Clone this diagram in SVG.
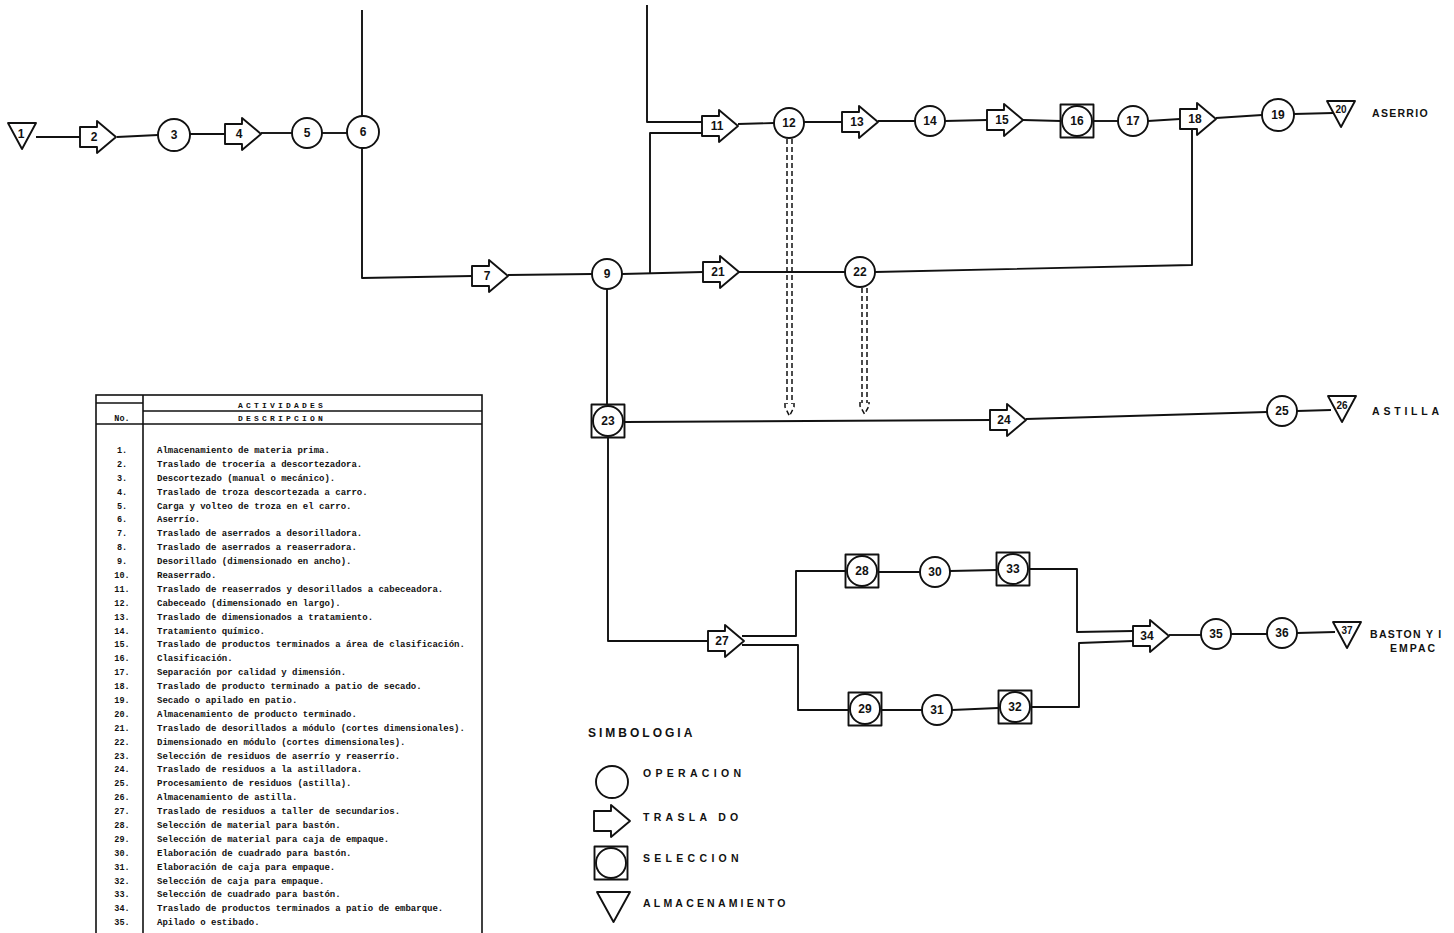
<svg xmlns="http://www.w3.org/2000/svg" xmlns:xlink="http://www.w3.org/1999/xlink" width="1454" height="933" viewBox="0 0 1454 933">
<style>
.ln{fill:none;stroke:#111;stroke-width:1.9;stroke-linejoin:round}
.sh{fill:#fff;stroke:#111;stroke-width:1.9;stroke-linejoin:round}
.dash{fill:none;stroke:#111;stroke-width:1.5;stroke-dasharray:5 3}
.num{font-family:"Liberation Sans",Arial,sans-serif;font-weight:bold;font-size:12px;fill:#111;text-anchor:middle}
.snum{font-family:"Liberation Sans",Arial,sans-serif;font-weight:bold;font-size:10px;fill:#111;text-anchor:middle}
.lbl{font-family:"Liberation Sans",Arial,sans-serif;font-weight:bold;font-size:10.5px;fill:#111}
.leg{font-family:"Liberation Sans",Arial,sans-serif;font-weight:bold;font-size:10.5px;fill:#111;letter-spacing:4.3px}
.tb{fill:none;stroke:#111;stroke-width:1.6}
.th{font-family:"Liberation Mono",monospace;font-weight:bold;font-size:8px;fill:#111;letter-spacing:3.2px;text-anchor:middle}
.tn{font-family:"Liberation Mono",monospace;font-weight:bold;font-size:8.5px;fill:#111;text-anchor:middle}
.td{font-family:"Liberation Mono",monospace;font-weight:bold;font-size:9px;fill:#111}
</style>
<defs>
<path id="tras" class="sh" d="M0,-10 H17 V-16 L36,0 L17,16 V10 H0 Z"/>
<g id="sel"><rect class="sh" x="-16.5" y="-16.5" width="33" height="33"/><circle class="sh" cx="0" cy="0" r="15"/></g>
<path id="alm" class="sh" d="M-14,-13 H14 L0,13 Z"/>
</defs>
<rect width="1454" height="933" fill="#fff"/>

<g id="connectors">
<path class="ln" d="M36,137 L80,137"/>
<path class="ln" d="M117,137 L158,135"/>
<path class="ln" d="M190,134 L225,134"/>
<path class="ln" d="M261,133 L292,133"/>
<path class="ln" d="M322,133 L347,133"/>
<path class="ln" d="M362,10 L362,116"/>
<path class="ln" d="M362,148 L362,278 L472,276"/>
<path class="ln" d="M508,275 L592,274"/>
<path class="ln" d="M622,274 L703,272"/>
<path class="ln" d="M650,274 L650,133 L702,133"/>
<path class="ln" d="M647,5 L647,122 L702,122"/>
<path class="ln" d="M738,124 L774,123"/>
<path class="ln" d="M804,122 L842,122"/>
<path class="ln" d="M878,121 L915,121"/>
<path class="ln" d="M945,121 L987,120"/>
<path class="ln" d="M1023,120 L1061,121"/>
<path class="ln" d="M1093,121 L1118,121"/>
<path class="ln" d="M1148,121 L1180,119"/>
<path class="ln" d="M1216,118 L1262,115"/>
<path class="ln" d="M1294,114 L1333,113"/>
<path class="ln" d="M739,272 L845,272"/>
<path class="ln" d="M875,272 L1192,265 L1192,129"/>
<path class="ln" d="M607,289 L607,405"/>
<path class="ln" d="M625,422 L990,420"/>
<path class="ln" d="M1026,419 L1267,412"/>
<path class="ln" d="M1297,411 L1331,410"/>
<path class="ln" d="M608,438 L608,641 L708,641"/>
<path class="ln" d="M742,636 L796,636 L796,571 L845,571"/>
<path class="ln" d="M742,645 L798,645 L798,710 L848,710"/>
<path class="ln" d="M879,572 L920,572"/>
<path class="ln" d="M950,571 L997,570"/>
<path class="ln" d="M1030,569 L1077,569 L1077,632 L1133,631"/>
<path class="ln" d="M882,710 L922,710"/>
<path class="ln" d="M952,710 L998,708"/>
<path class="ln" d="M1032,707 L1079,707 L1079,643 L1133,641"/>
<path class="ln" d="M1169,635 L1201,635"/>
<path class="ln" d="M1231,634 L1267,634"/>
<path class="ln" d="M1297,633 L1335,632"/>
<path class="dash" d="M787,139 L787,404"/>
<path class="dash" d="M792,139 L792,404"/>
<path class="dash" d="M785,403 L785,407 L789.5,416 L794,407 L794,403"/>
<path class="dash" d="M862,288 L862,403"/>
<path class="dash" d="M867,288 L867,403"/>
<path class="dash" d="M860,402 L860,406 L864.5,414 L869,406 L869,402"/>
</g>

<g id="n1"><use href="#alm" x="22" y="136"/><text class="num" x="21" y="138">1</text></g>
<g id="n2"><use href="#tras" x="80" y="137"/><text class="num" x="94" y="141">2</text></g>
<g id="n3"><circle class="sh" cx="174" cy="135" r="16"/><text class="num" x="174" y="139">3</text></g>
<g id="n4"><use href="#tras" x="225" y="134"/><text class="num" x="239" y="138">4</text></g>
<g id="n5"><circle class="sh" cx="307" cy="133" r="15"/><text class="num" x="307" y="137">5</text></g>
<g id="n6"><circle class="sh" cx="363" cy="132" r="16"/><text class="num" x="363" y="136">6</text></g>
<g id="n7"><use href="#tras" x="472" y="276"/><text class="num" x="487" y="280">7</text></g>
<g id="n9"><circle class="sh" cx="607" cy="274" r="15"/><text class="num" x="607" y="278">9</text></g>
<g id="n11"><use href="#tras" x="702" y="126"/><text class="num" x="717" y="130">11</text></g>
<g id="n12"><circle class="sh" cx="789" cy="123" r="15"/><text class="num" x="789" y="127">12</text></g>
<g id="n13"><use href="#tras" x="842" y="122"/><text class="num" x="857" y="126">13</text></g>
<g id="n14"><circle class="sh" cx="930" cy="121" r="15"/><text class="num" x="930" y="125">14</text></g>
<g id="n15"><use href="#tras" x="987" y="120"/><text class="num" x="1002" y="124">15</text></g>
<g id="n16"><use href="#sel" x="1077" y="121"/><text class="num" x="1077" y="125">16</text></g>
<g id="n17"><circle class="sh" cx="1133" cy="121" r="15"/><text class="num" x="1133" y="125">17</text></g>
<g id="n18"><use href="#tras" x="1180" y="119"/><text class="num" x="1195" y="123">18</text></g>
<g id="n19"><circle class="sh" cx="1278" cy="115" r="16"/><text class="num" x="1278" y="119">19</text></g>
<g id="n20"><use href="#alm" x="1341" y="114"/><text class="snum" x="1341" y="113">20</text></g>
<g id="n21"><use href="#tras" x="703" y="272"/><text class="num" x="718" y="276">21</text></g>
<g id="n22"><circle class="sh" cx="860" cy="272" r="15"/><text class="num" x="860" y="276">22</text></g>
<g id="n23"><use href="#sel" x="608" y="421"/><text class="num" x="608" y="425">23</text></g>
<g id="n24"><use href="#tras" x="990" y="420"/><text class="num" x="1004" y="424">24</text></g>
<g id="n25"><circle class="sh" cx="1282" cy="411" r="15"/><text class="num" x="1282" y="415">25</text></g>
<g id="n26"><use href="#alm" x="1342" y="409"/><text class="snum" x="1342" y="409">26</text></g>
<g id="n27"><use href="#tras" x="708" y="641"/><text class="num" x="722" y="645">27</text></g>
<g id="n28"><use href="#sel" x="862" y="571"/><text class="num" x="862" y="575">28</text></g>
<g id="n30"><circle class="sh" cx="935" cy="572" r="15"/><text class="num" x="935" y="576">30</text></g>
<g id="n33"><use href="#sel" x="1013" y="569"/><text class="num" x="1013" y="573">33</text></g>
<g id="n29"><use href="#sel" x="865" y="709"/><text class="num" x="865" y="713">29</text></g>
<g id="n31"><circle class="sh" cx="937" cy="710" r="15"/><text class="num" x="937" y="714">31</text></g>
<g id="n32"><use href="#sel" x="1015" y="707"/><text class="num" x="1015" y="711">32</text></g>
<g id="n34"><use href="#tras" x="1133" y="636"/><text class="num" x="1147" y="640">34</text></g>
<g id="n35"><circle class="sh" cx="1216" cy="634" r="15"/><text class="num" x="1216" y="638">35</text></g>
<g id="n36"><circle class="sh" cx="1282" cy="633" r="15"/><text class="num" x="1282" y="637">36</text></g>
<g id="n37"><use href="#alm" x="1347" y="635"/><text class="snum" x="1347" y="634">37</text></g>

<g id="labels">
<text class="lbl" x="1372" y="117" style="letter-spacing:1.3px">ASERRIO</text>
<text class="lbl" x="1372" y="415" style="letter-spacing:3.8px">ASTILLA</text>
<text class="lbl" x="1370" y="638" style="letter-spacing:1.3px">BASTON Y I</text>
<text class="lbl" x="1390" y="652" style="letter-spacing:2px">EMPAC</text>
</g>

<g id="legend">
<text class="leg" x="588" y="737" style="font-size:12px;letter-spacing:3px">SIMBOLOGIA</text>
<circle class="sh" cx="612" cy="782" r="16"/>
<text class="leg" x="643" y="777">OPERACION</text>
<use href="#tras" x="594" y="821"/>
<text class="leg" x="643" y="821">TRASLA DO</text>
<use href="#sel" x="611" y="863"/>
<text class="leg" x="643" y="862">SELECCION</text>
<path class="sh" d="M597,892 H630 L613.5,922 Z"/>
<text class="leg" x="643" y="907" style="letter-spacing:3.2px">ALMACENAMIENTO</text>
</g>

<g id="table">
<rect class="tb" x="96" y="395" width="386" height="550"/>
<line class="tb" x1="143" y1="395" x2="143" y2="945"/>
<line class="tb" x1="96" y1="403" x2="143" y2="403"/>
<line class="tb" x1="143" y1="411" x2="482" y2="411"/>
<line class="tb" x1="96" y1="424" x2="482" y2="424"/>
<text class="th" x="282" y="408">ACTIVIDADES</text>
<text class="th" x="282" y="421">DESCRIPCION</text>
<text class="tn" x="122" y="421">No.</text>
<text class="tn" x="122" y="453">1.</text><text class="td" x="157" y="453">Almacenamiento de materia prima.</text>
<text class="tn" x="122" y="467">2.</text><text class="td" x="157" y="467">Traslado de trocería a descortezadora.</text>
<text class="tn" x="122" y="481">3.</text><text class="td" x="157" y="481">Descortezado (manual o mecánico).</text>
<text class="tn" x="122" y="495">4.</text><text class="td" x="157" y="495">Traslado de troza descortezada a carro.</text>
<text class="tn" x="122" y="509">5.</text><text class="td" x="157" y="509">Carga y volteo de troza en el carro.</text>
<text class="tn" x="122" y="522">6.</text><text class="td" x="157" y="522">Aserrío.</text>
<text class="tn" x="122" y="536">7.</text><text class="td" x="157" y="536">Traslado de aserrados a desorilladora.</text>
<text class="tn" x="122" y="550">8.</text><text class="td" x="157" y="550">Traslado de aserrados a reaserradora.</text>
<text class="tn" x="122" y="564">9.</text><text class="td" x="157" y="564">Desorillado (dimensionado en ancho).</text>
<text class="tn" x="122" y="578">10.</text><text class="td" x="157" y="578">Reaserrado.</text>
<text class="tn" x="122" y="592">11.</text><text class="td" x="157" y="592">Traslado de reaserrados y desorillados a cabeceadora.</text>
<text class="tn" x="122" y="606">12.</text><text class="td" x="157" y="606">Cabeceado (dimensionado en largo).</text>
<text class="tn" x="122" y="620">13.</text><text class="td" x="157" y="620">Traslado de dimensionados a tratamiento.</text>
<text class="tn" x="122" y="634">14.</text><text class="td" x="157" y="634">Tratamiento químico.</text>
<text class="tn" x="122" y="647">15.</text><text class="td" x="157" y="647">Traslado de productos terminados a área de clasificación.</text>
<text class="tn" x="122" y="661">16.</text><text class="td" x="157" y="661">Clasificación.</text>
<text class="tn" x="122" y="675">17.</text><text class="td" x="157" y="675">Separación por calidad y dimensión.</text>
<text class="tn" x="122" y="689">18.</text><text class="td" x="157" y="689">Traslado de producto terminado a patio de secado.</text>
<text class="tn" x="122" y="703">19.</text><text class="td" x="157" y="703">Secado o apilado en patio.</text>
<text class="tn" x="122" y="717">20.</text><text class="td" x="157" y="717">Almacenamiento de producto terminado.</text>
<text class="tn" x="122" y="731">21.</text><text class="td" x="157" y="731">Traslado de desorillados a módulo (cortes dimensionales).</text>
<text class="tn" x="122" y="745">22.</text><text class="td" x="157" y="745">Dimensionado en módulo (cortes dimensionales).</text>
<text class="tn" x="122" y="759">23.</text><text class="td" x="157" y="759">Selección de residuos de aserrío y reaserrío.</text>
<text class="tn" x="122" y="772">24.</text><text class="td" x="157" y="772">Traslado de residuos a la astilladora.</text>
<text class="tn" x="122" y="786">25.</text><text class="td" x="157" y="786">Procesamiento de residuos (astilla).</text>
<text class="tn" x="122" y="800">26.</text><text class="td" x="157" y="800">Almacenamiento de astilla.</text>
<text class="tn" x="122" y="814">27.</text><text class="td" x="157" y="814">Traslado de residuos a taller de secundarios.</text>
<text class="tn" x="122" y="828">28.</text><text class="td" x="157" y="828">Selección de material para bastón.</text>
<text class="tn" x="122" y="842">29.</text><text class="td" x="157" y="842">Selección de material para caja de empaque.</text>
<text class="tn" x="122" y="856">30.</text><text class="td" x="157" y="856">Elaboración de cuadrado para bastón.</text>
<text class="tn" x="122" y="870">31.</text><text class="td" x="157" y="870">Elaboración de caja para empaque.</text>
<text class="tn" x="122" y="884">32.</text><text class="td" x="157" y="884">Selección de caja para empaque.</text>
<text class="tn" x="122" y="897">33.</text><text class="td" x="157" y="897">Selección de cuadrado para bastón.</text>
<text class="tn" x="122" y="911">34.</text><text class="td" x="157" y="911">Traslado de productos terminados a patio de embarque.</text>
<text class="tn" x="122" y="925">35.</text><text class="td" x="157" y="925">Apilado o estibado.</text>
</g>
</svg>
